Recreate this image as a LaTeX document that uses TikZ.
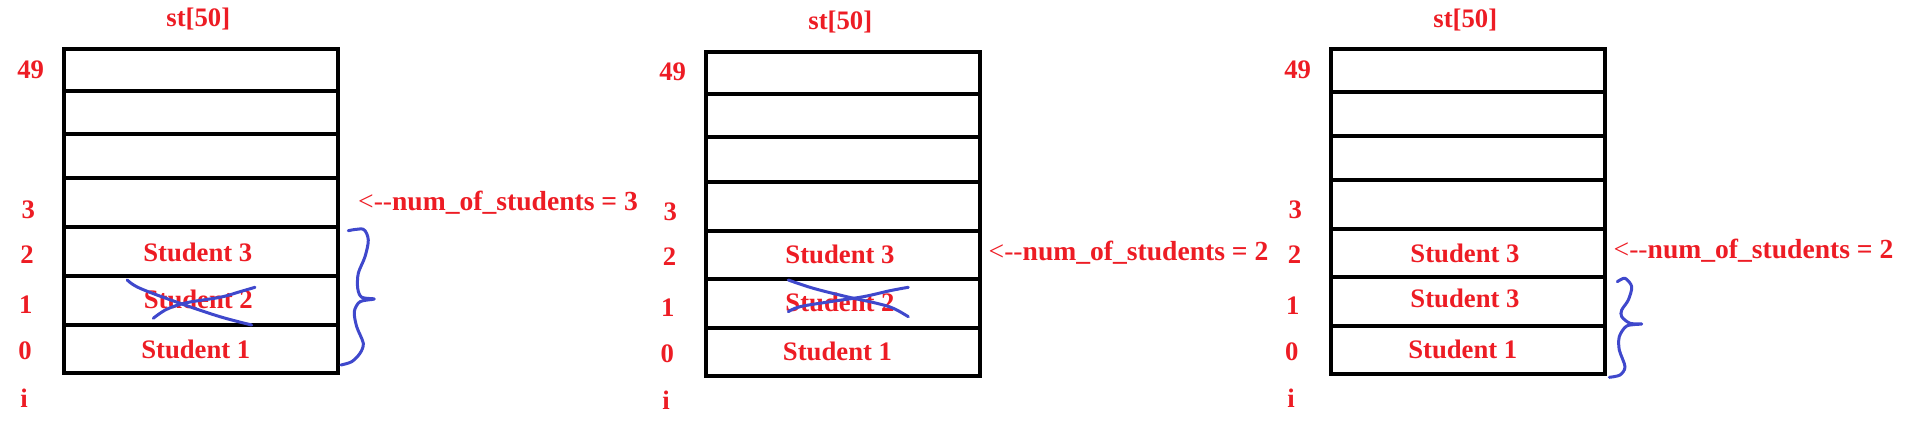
\documentclass[tikz,border=0pt]{standalone}
\usepackage{fontspec}
\setmainfont{Liberation Serif}
\definecolor{paintred}{RGB}{237,28,36}
\definecolor{paintblue}{RGB}{63,72,204}
\tikzset{
  cell/.style={black, line width=2pt},
  lbl/.style={text=paintred, font=\fontsize{13.35}{16}\selectfont\bfseries, inner sep=0pt, text height=9.3pt, text depth=1.3pt},
  count/.style={lbl, anchor=west, font=\fontsize{13.8}{16}\selectfont\bfseries},
  scribble/.style={paintblue, line width=1.5pt, line cap=round, line join=round},
}
\begin{document}
\begin{tikzpicture}[x=0.5pt, y=-0.5pt]
    \useasboundingbox (0,0) rectangle (1905,437);

    % first array
    \draw[cell] (63.5,49) rectangle (338,373);
    \draw[cell] (63.5,91) -- (338,91);
    \draw[cell] (63.5,134) -- (338,134);
    \draw[cell] (63.5,178) -- (338,178);
    \draw[cell] (63.5,227) -- (338,227);
    \draw[cell] (63.5,276) -- (338,276);
    \draw[cell] (63.5,325) -- (338,325);

    \node[lbl] (title1) at (198.3,18.7) {st[50]};
    \node[lbl] (p1-49) at (30.7,70.3) {49};
    \node[lbl] (p1-3) at (28.2,210.3) {3};
    \node[lbl] (p1-2) at (27,255.3) {2};
    \node[lbl] (p1-1) at (25.8,306) {1};
    \node[lbl] (p1-0) at (25,352) {0};
    \node[lbl] (p1-i) at (24,399.3) {i};

    \node[lbl] (s1-2) at (197.8,253.5) {Student 3};
    \node[lbl] (s1-1) at (198.3,300.5) {Student 2};
    \node[lbl] (s1-0) at (195.8,350.3) {Student 1};
    \node[count] (num1) at (357.8,202.7) {{\mdseries <-{}-}num\_of\_students = 3};

    \draw[scribble] plot[smooth, tension=0.6] coordinates {(127.3,280) (140,288.3) (180,303.3) (220,316.7) (251.7,325)};
    \draw[scribble] plot[smooth, tension=0.6] coordinates {(153.3,318.3) (166.7,309.3) (186.7,302.7) (220,297.3) (240,291.7) (255,287.3)};
    \draw[scribble] plot[smooth, tension=0.5] coordinates {(348.3,230.7) (363.3,229.3) (368.3,240) (365,256.7) (358.3,273.3) (357.7,288.3) (361.7,297.3) (374.3,299) (360,301.7) (354.3,311.7) (356.7,326.7) (363.3,343.3) (360,353.3) (351.7,361.7) (341,365)};

    % second array
    \draw[cell] (705.7,52) rectangle (980,376);
    \draw[cell] (705.7,94.3) -- (980,94.3);
    \draw[cell] (705.7,137.3) -- (980,137.3);
    \draw[cell] (705.7,181.7) -- (980,181.7);
    \draw[cell] (705.7,230.7) -- (980,230.7);
    \draw[cell] (705.7,279.3) -- (980,279.3);
    \draw[cell] (705.7,328.3) -- (980,328.3);

    \node[lbl] (title2) at (840.3,21.3) {st[50]};
    \node[lbl] (p2-49) at (672.7,72.5) {49};
    \node[lbl] (p2-3) at (670.2,213) {3};
    \node[lbl] (p2-2) at (669.5,258) {2};
    \node[lbl] (p2-1) at (667.7,309) {1};
    \node[lbl] (p2-0) at (667.2,354.5) {0};
    \node[lbl] (p2-i) at (666,402) {i};

    \node[lbl] (s2-2) at (840,255.3) {Student 3};
    \node[lbl] (s2-1) at (840,303.7) {Student 2};
    \node[lbl] (s2-0) at (837.5,353) {Student 1};
    \node[count] (num2) at (988.3,252.7) {{\mdseries <-{}-}num\_of\_students = 2};

    \draw[scribble] plot[smooth, tension=0.6] coordinates {(788.3,280) (813.3,288.3) (846.7,296.7) (876.7,303.3) (893.3,308.3) (908.3,316.7)};
    \draw[scribble] plot[smooth, tension=0.6] coordinates {(788.3,311.7) (800,306.7) (830,301.7) (863.3,296.7) (890,290.7) (908.3,287.3)};

    % third array
    \draw[cell] (1330.7,49.5) rectangle (1605.3,374.5);
    \draw[cell] (1330.7,92.5) -- (1605.3,92.5);
    \draw[cell] (1330.7,136) -- (1605.3,136);
    \draw[cell] (1330.7,180) -- (1605.3,180);
    \draw[cell] (1330.7,229) -- (1605.3,229);
    \draw[cell] (1330.7,277.5) -- (1605.3,277.5);
    \draw[cell] (1330.7,326) -- (1605.3,326);

    \node[lbl] (title3) at (1465.3,19.3) {st[50]};
    \node[lbl] (p3-49) at (1297.7,70.8) {49};
    \node[lbl] (p3-3) at (1295.2,210.8) {3};
    \node[lbl] (p3-2) at (1294.5,256) {2};
    \node[lbl] (p3-1) at (1292.7,307) {1};
    \node[lbl] (p3-0) at (1291.8,352.5) {0};
    \node[lbl] (p3-i) at (1291,400) {i};

    \node[lbl] (s3-2) at (1465,254.3) {Student 3};
    \node[lbl] (s3-1) at (1465,299.7) {Student 3};
    \node[lbl] (s3-0) at (1462.8,351) {Student 1};
    \node[count] (num3) at (1613.3,251) {{\mdseries <-{}-}num\_of\_students = 2};

    \draw[scribble] plot[smooth, tension=0.5] coordinates {(1617.3,281.7) (1625,278.3) (1631.7,286.7) (1628.3,300) (1621.7,310) (1621.7,316.7) (1630,323.3) (1641.7,324) (1626.7,326) (1619.3,336.7) (1619.3,350) (1625,366.7) (1620,375) (1609.3,377.3)};
\end{tikzpicture}
\end{document}
